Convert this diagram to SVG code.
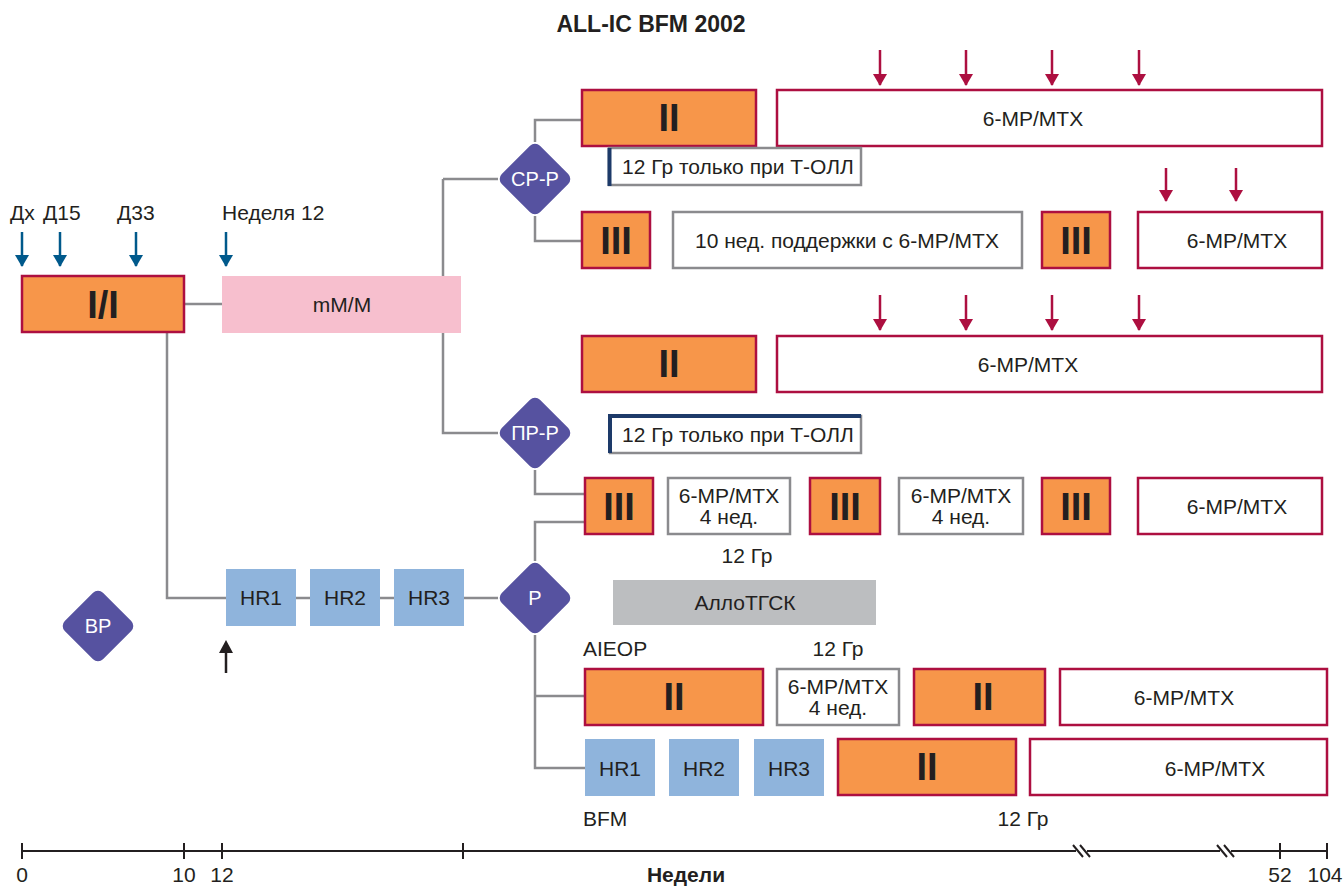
<svg xmlns="http://www.w3.org/2000/svg" width="1344" height="886" viewBox="0 0 1344 886">
  <style>
    text { font-family: "Liberation Sans", "Roboto", sans-serif; fill: #231f20; }
    .t { font-size: 21px; }
    .c { text-anchor: middle; }
    .num { font-size: 38px; font-weight: bold; text-anchor: middle; }
    .dia text { fill: #ffffff; font-size: 20px; text-anchor: middle; }
    .blk { fill: #f7964a; stroke: #ad0f40; stroke-width: 2.5; }
    .mnt { fill: #ffffff; stroke: #ad0f40; stroke-width: 2.5; }
    .gbox { fill: #ffffff; stroke: #8b8b8e; stroke-width: 2.5; }
    .hr { fill: #8fb4dc; }
    .dia rect { fill: #5652a0; }
    .conn { fill: none; stroke: #8b8b8e; stroke-width: 2.5; }
    .red-arr { stroke: #ad0f40; stroke-width: 2.5; marker-end: url(#hRed); }
    .blue-arr { stroke: #00598b; stroke-width: 2.5; marker-end: url(#hBlue); }
    .axis { stroke: #231f20; stroke-width: 2; fill: none; }
  </style>
  <defs>
    <!-- arrowheads drawn pointing along +x, tip at the line end -->
    <marker id="hRed" markerUnits="userSpaceOnUse" markerWidth="12" markerHeight="14" viewBox="0 0 12 14" refX="11" refY="7" orient="auto">
      <path d="M0,0 L12,7 L0,14 Z" fill="#ad0f40"/>
    </marker>
    <marker id="hBlue" markerUnits="userSpaceOnUse" markerWidth="12" markerHeight="14" viewBox="0 0 12 14" refX="11" refY="7" orient="auto">
      <path d="M0,0 L12,7 L0,14 Z" fill="#00598b"/>
    </marker>
  </defs>

  <rect width="1344" height="886" fill="#ffffff"/>

  <text x="651" y="32" class="c" style="font-size:23px;font-weight:bold">ALL-IC BFM 2002</text>

  <!-- connectors -->
  <g id="connectors">
    <path class="conn" d="M184,304 H222"/>
    <path class="conn" d="M443,179 V433 H498"/>
    <path class="conn" d="M443,179 H498"/>
    <path class="conn" d="M535,142 V120 H582"/>
    <path class="conn" d="M535,216 V241 H582"/>
    <path class="conn" d="M535,470 V494 H585"/>
    <path class="conn" d="M585,522 H535 V561"/>
    <path class="conn" d="M167,332 V598 H226"/>
    <path class="conn" d="M296,598 H310 M380,598 H394 M464,598 H498"/>
    <path class="conn" d="M535,635 V768 H585 M535,696 H585"/>
  </g>

  <!-- timing arrows -->
  <g id="arrows">
    <line class="blue-arr" x1="22" y1="232" x2="22" y2="266"/>
    <line class="blue-arr" x1="60" y1="232" x2="60" y2="266"/>
    <line class="blue-arr" x1="136" y1="232" x2="136" y2="266"/>
    <line class="blue-arr" x1="226" y1="232" x2="226" y2="266"/>
    <line class="red-arr" x1="880" y1="50" x2="880" y2="85"/>
    <line class="red-arr" x1="966" y1="50" x2="966" y2="85"/>
    <line class="red-arr" x1="1052" y1="50" x2="1052" y2="85"/>
    <line class="red-arr" x1="1139" y1="50" x2="1139" y2="85"/>
    <line class="red-arr" x1="1166" y1="168" x2="1166" y2="201"/>
    <line class="red-arr" x1="1236" y1="168" x2="1236" y2="201"/>
    <line class="red-arr" x1="880" y1="295" x2="880" y2="330"/>
    <line class="red-arr" x1="966" y1="295" x2="966" y2="330"/>
    <line class="red-arr" x1="1052" y1="295" x2="1052" y2="330"/>
    <line class="red-arr" x1="1139" y1="295" x2="1139" y2="330"/>
    <line x1="226" y1="673" x2="226" y2="650" stroke="#231f20" stroke-width="2.5"/>
    <path d="M219,653 L233,653 L226,640 Z" fill="#231f20"/>
  </g>

  <!-- start labels -->
  <g id="labels-top" class="t">
    <text x="10" y="220">Дх</text>
    <text x="43" y="220">Д15</text>
    <text x="117" y="220">Д33</text>
    <text x="222" y="220">Неделя 12</text>
  </g>

  <g id="induction">
    <rect class="blk" x="22" y="276" width="162" height="56"/>
    <text x="103" y="318" class="num">I/I</text>
  </g>
  <g id="mmm">
    <rect x="222" y="276" width="239" height="57" fill="#f7bfce"/>
    <text x="342" y="312" class="t c">mM/M</text>
  </g>

  <!-- standard risk -->
  <g id="sr" class="dia">
    <rect x="508" y="152" width="54" height="54" rx="7" transform="rotate(45 535 179)"/>
    <text x="535" y="186">СР-Р</text>
  </g>
  <g id="sr-ii">
    <rect class="blk" x="582" y="90" width="174" height="56"/>
    <text x="669" y="131" class="num">II</text>
  </g>
  <g id="sr-mnt">
    <rect class="mnt" x="777" y="90" width="545" height="56"/>
    <text x="1033" y="126" class="t c">6-MP/MTX</text>
  </g>
  <g id="sr-rt">
    <rect class="gbox" x="609" y="148" width="252" height="37"/>
    <line x1="609.5" y1="148" x2="609.5" y2="186" stroke="#1d3a69" stroke-width="4"/>
    <text x="622" y="174" class="t">12 Гр только при Т-ОЛЛ</text>
  </g>
  <g id="sr-iii-a">
    <rect class="blk" x="582" y="212" width="68" height="56"/>
    <text x="616" y="254" class="num">III</text>
  </g>
  <g id="sr-10w">
    <rect class="gbox" x="673" y="212" width="349" height="56"/>
    <text x="847" y="248" class="t c">10 нед. поддержки с 6-MP/MTX</text>
  </g>
  <g id="sr-iii-b">
    <rect class="blk" x="1042" y="212" width="68" height="56"/>
    <text x="1076" y="254" class="num">III</text>
  </g>
  <g id="sr-mnt-b">
    <rect class="mnt" x="1138" y="212" width="184" height="56"/>
    <text x="1237" y="248" class="t c">6-MP/MTX</text>
  </g>

  <!-- intermediate risk -->
  <g id="ir" class="dia">
    <rect x="508" y="406" width="54" height="54" rx="7" transform="rotate(45 535 433)"/>
    <text x="535" y="440">ПР-Р</text>
  </g>
  <g id="ir-ii">
    <rect class="blk" x="582" y="336" width="174" height="56"/>
    <text x="669" y="377" class="num">II</text>
  </g>
  <g id="ir-mnt">
    <rect class="mnt" x="777" y="336" width="545" height="56"/>
    <text x="1028" y="372" class="t c">6-MP/MTX</text>
  </g>
  <g id="ir-rt">
    <rect class="gbox" x="610" y="416" width="251" height="37"/>
    <path d="M610,453 V416 H861" fill="none" stroke="#1d3a69" stroke-width="4"/>
    <text x="622" y="442" class="t">12 Гр только при Т-ОЛЛ</text>
  </g>
  <g id="ir-iii-a">
    <rect class="blk" x="585" y="478" width="68" height="56"/>
    <text x="619" y="520" class="num">III</text>
  </g>
  <g id="ir-4w-a">
    <rect class="gbox" x="668" y="478" width="122" height="56"/>
    <text x="729" y="503" class="t c">6-MP/MTX</text>
    <text x="729" y="524" class="t c">4 нед.</text>
  </g>
  <g id="ir-iii-b">
    <rect class="blk" x="810" y="478" width="70" height="56"/>
    <text x="845" y="520" class="num">III</text>
  </g>
  <g id="ir-4w-b">
    <rect class="gbox" x="899" y="478" width="124" height="56"/>
    <text x="961" y="503" class="t c">6-MP/MTX</text>
    <text x="961" y="524" class="t c">4 нед.</text>
  </g>
  <g id="ir-iii-c">
    <rect class="blk" x="1042" y="478" width="68" height="56"/>
    <text x="1076" y="520" class="num">III</text>
  </g>
  <g id="ir-mnt-b">
    <rect class="mnt" x="1138" y="478" width="184" height="56"/>
    <text x="1237" y="514" class="t c">6-MP/MTX</text>
  </g>
  <text x="747" y="563" class="t c">12 Гр</text>

  <!-- high risk -->
  <g id="hr-start-1">
    <rect class="hr" x="226" y="569" width="70" height="57"/>
    <text x="261" y="605" class="t c">HR1</text>
  </g>
  <g id="hr-start-2">
    <rect class="hr" x="310" y="569" width="70" height="57"/>
    <text x="345" y="605" class="t c">HR2</text>
  </g>
  <g id="hr-start-3">
    <rect class="hr" x="394" y="569" width="70" height="57"/>
    <text x="429" y="605" class="t c">HR3</text>
  </g>
  <g id="hr" class="dia">
    <rect x="508" y="571" width="54" height="54" rx="7" transform="rotate(45 535 598)"/>
    <text x="535" y="605">Р</text>
  </g>
  <g id="vr" class="dia">
    <rect x="71" y="599" width="54" height="54" rx="7" transform="rotate(45 98 626)"/>
    <text x="98" y="633">ВР</text>
  </g>
  <g id="allo">
    <rect x="613" y="580" width="263" height="45" fill="#bcbec0"/>
    <text x="745" y="610" class="t c">АллоТГСК</text>
  </g>
  <text x="583" y="656" class="t">AIEOP</text>
  <text x="838" y="656" class="t c">12 Гр</text>

  <g id="aieop-ii-a">
    <rect class="blk" x="585" y="669" width="178" height="56"/>
    <text x="674" y="710" class="num">II</text>
  </g>
  <g id="aieop-4w">
    <rect class="gbox" x="777" y="669" width="122" height="56"/>
    <text x="838" y="694" class="t c">6-MP/MTX</text>
    <text x="838" y="715" class="t c">4 нед.</text>
  </g>
  <g id="aieop-ii-b">
    <rect class="blk" x="914" y="669" width="131" height="56"/>
    <text x="983" y="710" class="num">II</text>
  </g>
  <g id="aieop-mnt">
    <rect class="mnt" x="1060" y="669" width="267" height="56"/>
    <text x="1184" y="705" class="t c">6-MP/MTX</text>
  </g>

  <g id="bfm-hr1">
    <rect class="hr" x="585" y="739" width="70" height="57"/>
    <text x="620" y="776" class="t c">HR1</text>
  </g>
  <g id="bfm-hr2">
    <rect class="hr" x="669" y="739" width="70" height="57"/>
    <text x="704" y="776" class="t c">HR2</text>
  </g>
  <g id="bfm-hr3">
    <rect class="hr" x="754" y="739" width="70" height="57"/>
    <text x="789" y="776" class="t c">HR3</text>
  </g>
  <g id="bfm-ii">
    <rect class="blk" x="838" y="739" width="178" height="56"/>
    <text x="927" y="780" class="num">II</text>
  </g>
  <g id="bfm-mnt">
    <rect class="mnt" x="1030" y="739" width="297" height="56"/>
    <text x="1215" y="776" class="t c">6-MP/MTX</text>
  </g>
  <text x="583" y="826" class="t">BFM</text>
  <text x="1023" y="826" class="t c">12 Гр</text>

  <!-- time axis -->
  <g id="axis">
    <path class="axis" d="M22,851 H1327"/>
    <path class="axis" d="M22,843 V859 M184,843 V859 M222,843 V859 M463,843 V859 M1280,843 V859 M1327,843 V859"/>
    <rect x="1074" y="844" width="16" height="14" fill="#ffffff"/>
    <rect x="1218" y="844" width="16" height="14" fill="#ffffff"/>
    <path class="axis" d="M1073,845 L1083,857 M1080,845 L1090,857 M1217,845 L1227,857 M1224,845 L1234,857"/>
    <path class="axis" d="M1074,851 H1076 M1087,851 H1091 M1218,851 H1220 M1231,851 H1235"/>
    <text x="22" y="882" class="t c">0</text>
    <text x="184" y="882" class="t c">10</text>
    <text x="222" y="882" class="t c">12</text>
    <text x="686" y="882" class="t c" style="font-weight:bold">Недели</text>
    <text x="1280" y="882" class="t c">52</text>
    <text x="1325" y="882" class="t c">104</text>
  </g>
</svg>
